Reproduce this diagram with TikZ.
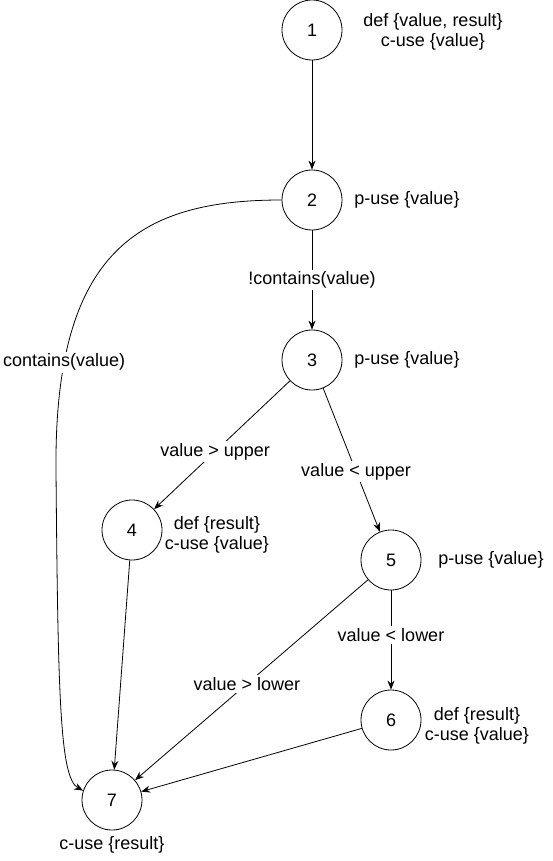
\documentclass[tikz,border=0pt]{standalone}
\usepackage{fontspec}
\setmainfont{Liberation Sans}
\usetikzlibrary{arrows.meta}

\tikzset{
  nodo/.style={circle, draw, line width=0.8pt, minimum size=60pt, inner sep=0pt},
  flecha/.style={line width=0.8pt, -{Stealth[length=9pt,width=7pt,inset=3pt]}},
  cond/.style={fill=white, inner sep=2pt},
  info/.style={align=center},
  every node/.style={font=\fontsize{18}{20.5}\selectfont}
}

\begin{document}
\begin{tikzpicture}[x=1pt, y=1pt]
% Fijamos el tamano del dibujo (en pixeles de la imagen original).
\useasboundingbox (0,0) rectangle (552,-861);

% Los nodos del grafo de flujo, colocados en coordenadas.
\node[nodo] (n1) at (312,-30) {1};
\node[nodo] (n2) at (312,-200) {2};
\node[nodo] (n3) at (312,-360) {3};
\node[nodo] (n4) at (132,-530) {4};
\node[nodo] (n5) at (391,-560) {5};
\node[nodo] (n6) at (391,-720) {6};
\node[nodo] (n7) at (112,-800) {7};

% Anotaciones de def / uso al lado de cada nodo.
\node[info] (i1) at (433,-32) {def \{value, result\}\\c-use \{value\}};
\node[info] (i2) at (407,-200) {p-use \{value\}};
\node[info] (i3) at (407,-360) {p-use \{value\}};
\node[info] (i4) at (217,-535) {def \{result\}\\c-use \{value\}};
\node[info] (i5) at (491,-560) {p-use \{value\}};
\node[info] (i6) at (477,-726) {def \{result\}\\c-use \{value\}};
\node[info] (i7) at (112,-845) {c-use \{result\}};

% Aristas; las condiciones van con fondo blanco para cortar la linea.
\draw[flecha] (n1) -- (n2);
\draw[flecha] (n2) -- node[cond, pos=0.5] {!contains(value)} (n3);
\draw[flecha] (n2.west) .. controls (140,-200) and (54,-250) .. (56,-470)
  node[cond, pos=0.81] {contains(value)}
  .. controls (58,-700) and (60,-778) .. (n7.162);
\draw[flecha] (n3) -- node[cond, pos=0.55] {value > upper} (n4);
\draw[flecha] (n3) -- node[cond, pos=0.58] {value < upper} (n5);
\draw[flecha] (n4) -- (n7);
\draw[flecha] (n5) -- node[cond, pos=0.45] {value < lower} (n6);
\draw[flecha] (n5) -- node[cond, pos=0.52] {value > lower} (n7);
\draw[flecha] (n6) -- (n7);
\end{tikzpicture}
\end{document}
